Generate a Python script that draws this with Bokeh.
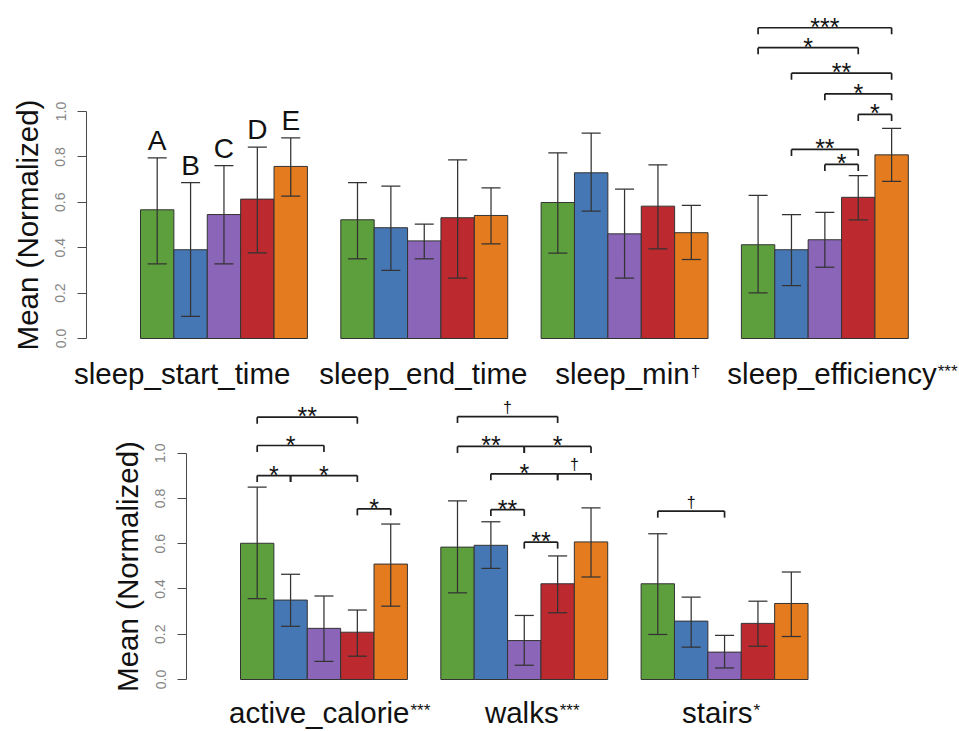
from bokeh.plotting import figure
from bokeh.layouts import column
from bokeh.models import ColumnDataSource, FixedTicker, PrintfTickFormatter, LinearAxis
from bokeh.embed import file_html
from bokeh.resources import INLINE
from bokeh.core.properties import value

# ---------------- data ----------------
conditions = ["A", "B", "C", "D", "E"]
colors = ["#5d9f3d", "#4677b5", "#8b65b7", "#bc2a2f", "#e47b1f"]

top_features = ["sleep_start_time", "sleep_end_time", "sleep_min", "sleep_efficiency"]
top_marks = ["", "", "\u2020", "***"]
top_mean = [[0.567, 0.391, 0.546, 0.614, 0.758],
            [0.523, 0.488, 0.430, 0.532, 0.542],
            [0.599, 0.730, 0.461, 0.583, 0.466],
            [0.413, 0.391, 0.435, 0.622, 0.809]]
top_upper = [[0.796, 0.687, 0.762, 0.843, 0.884],
             [0.687, 0.671, 0.504, 0.787, 0.664],
             [0.818, 0.905, 0.658, 0.765, 0.587],
             [0.631, 0.546, 0.556, 0.718, 0.926]]
top_lower = [[0.329, 0.097, 0.329, 0.377, 0.627],
             [0.351, 0.300, 0.351, 0.266, 0.417],
             [0.376, 0.561, 0.266, 0.395, 0.348],
             [0.201, 0.233, 0.314, 0.523, 0.692]]

bottom_features = ["active_calorie", "walks", "stairs"]
bottom_marks = ["***", "***", "*"]
bottom_mean = [[0.602, 0.351, 0.226, 0.209, 0.510],
               [0.585, 0.593, 0.172, 0.423, 0.608],
               [0.423, 0.258, 0.121, 0.248, 0.336]]
bottom_upper = [[0.850, 0.465, 0.369, 0.307, 0.687],
                [0.789, 0.697, 0.283, 0.546, 0.758],
                [0.644, 0.364, 0.195, 0.346, 0.475]]
bottom_lower = [[0.357, 0.235, 0.080, 0.103, 0.324],
                [0.383, 0.491, 0.063, 0.295, 0.453],
                [0.199, 0.143, 0.051, 0.147, 0.190]]

# pairwise significance: (group, condition i, condition j, mark)
top_sig = [(3, 0, 4, "***"), (3, 0, 3, "*"), (3, 1, 4, "**"), (3, 2, 4, "*"),
           (3, 3, 4, "*"), (3, 1, 3, "**"), (3, 2, 3, "*")]
bottom_sig = [(0, 0, 3, "**"), (0, 0, 2, "*"), (0, 0, 1, "*"), (0, 1, 3, "*"), (0, 3, 4, "*"),
              (1, 0, 3, "\u2020"), (1, 0, 2, "**"), (1, 2, 4, "*"), (1, 1, 3, "*"),
              (1, 3, 4, "\u2020"), (1, 1, 2, "**"), (1, 2, 3, "**"),
              (2, 0, 2, "\u2020")]

# ---------------- layout (positions / styles) ----------------
top_sig_level = [1.369, 1.281, 1.169, 1.078, 0.987, 0.833, 0.767]
bottom_sig_level = [1.159, 1.034, 0.901, 0.901, 0.754,
                    1.162, 1.030, 1.030, 0.909, 0.909, 0.751, 0.607,
                    0.744]
top_label_end = [4.49, 11.59, 16.45, 23.85]     # x (bar units) where the main label text ends
bottom_label_end = [5.06, 9.53, 15.34]

W = 959
PX = 200.3 / 6.0          # pixels per bar width
GROUP = 6                 # 5 bars + 1 gap
OFF = 54.0 / PX           # axis to first bar
FONT = "Liberation Sans"
MID = 0.35                # em-box centre above the alphabetic baseline
LABEL_PX = 29.5
SUP_PX = 17
STAR_PX = 25
DAGGER_PX = 16
LETTER_PX = 28


def panel(height, first_bar_px, zero_px, unit_px,
          means, uppers, lowers, feats, marks, label_end, label_base_px,
          sigs, sig_levels, letters):
    x0 = -first_bar_px / PX
    x1 = (W - first_bar_px) / PX
    y1 = zero_px / unit_px
    y0 = (zero_px - height) / unit_px
    p = figure(width=W, height=height, x_range=(x0, x1), y_range=(y0, y1),
               output_backend="svg", toolbar_location=None,
               x_axis_location=None, y_axis_location=None,
               min_border_left=0, min_border_right=0,
               min_border_top=0, min_border_bottom=0)
    p.grid.visible = False
    p.outline_line_color = None
    p.background_fill_color = "white"
    p.border_fill_color = "white"

    def vy(px_from_top):
        return (zero_px - px_from_top) / unit_px

    ax = LinearAxis(fixed_location=-OFF)
    ax.bounds = (0, 1)
    ax.ticker = FixedTicker(ticks=[0, 0.2, 0.4, 0.6, 0.8, 1.0])
    ax.formatter = PrintfTickFormatter(format="%.1f")
    ax.major_label_orientation = "parallel"
    ax.major_tick_out = 9
    ax.major_tick_in = 0
    ax.minor_tick_out = 0
    ax.minor_tick_in = 0
    ax.major_label_standoff = 12
    ax.major_label_text_font = FONT
    ax.major_label_text_font_size = "14px"
    ax.major_label_text_color = "#858585"
    ax.axis_line_color = "#4a4a4a"
    ax.major_tick_line_color = "#4a4a4a"
    ax.axis_label = "Mean (Normalized)"
    ax.axis_label_text_font = FONT
    ax.axis_label_text_font_size = "29.5px"
    ax.axis_label_text_font_style = "normal"
    ax.axis_label_text_color = "#111111"
    ax.axis_label_standoff = 9
    p.add_layout(ax, "left")

    # bars and error bars
    left, right, top, fill, xc, up, lo = [], [], [], [], [], [], []
    for g, vals in enumerate(means):
        for i, v in enumerate(vals):
            left.append(g * GROUP + i)
            right.append(g * GROUP + i + 1)
            top.append(v)
            fill.append(colors[i])
            xc.append(g * GROUP + i + 0.5)
            up.append(uppers[g][i])
            lo.append(lowers[g][i])
    src = ColumnDataSource(dict(left=left, right=right, top=top, fill=fill,
                                xc=xc, up=up, lo=lo,
                                cl=[x - 0.285 for x in xc], cr=[x + 0.285 for x in xc]))
    p.quad(left="left", right="right", bottom=0, top="top", fill_color="fill",
           line_color="#333333", line_width=1, source=src)
    ecol = "#333333"
    p.segment(x0="xc", y0="lo", x1="xc", y1="up", line_color=ecol, line_width=1.25, source=src)
    p.segment(x0="cl", y0="up", x1="cr", y1="up", line_color=ecol, line_width=1.25, source=src)
    p.segment(x0="cl", y0="lo", x1="cr", y1="lo", line_color=ecol, line_width=1.25, source=src)

    if letters:
        ly = [u + (7.5 + MID * LETTER_PX) / unit_px for u in up[:5]]
        p.text(x=xc[:5], y=ly, text=conditions,
               text_align="center", text_baseline="middle",
               text_font=value(FONT), text_font_size=f"{LETTER_PX}px", text_color="#111111")

    # significance brackets
    drop = 6.5 / unit_px
    bx0, by0, bx1, by1 = [], [], [], []
    sx, sy, st, dx, dy, dt = [], [], [], [], [], []
    for (g, i, j, mark), lev in zip(sigs, sig_levels):
        xi = g * GROUP + i + 0.5
        xj = g * GROUP + j + 0.5
        bx0 += [xi, xi, xj]
        by0 += [lev, lev, lev]
        bx1 += [xj, xi, xj]
        by1 += [lev, lev - drop, lev - drop]
        if mark.startswith("*"):
            base_off = 6.6 - 0.575 * STAR_PX
            sx.append((xi + xj) / 2)
            sy.append(lev + (base_off + MID * STAR_PX) / unit_px)
            st.append(mark)
        else:
            base_off = 7.7 - 0.28 * DAGGER_PX
            dx.append((xi + xj) / 2)
            dy.append(lev + (base_off + MID * DAGGER_PX) / unit_px)
            dt.append(mark)
    p.segment(x0=bx0, y0=by0, x1=bx1, y1=by1, line_color="#1e1e1e", line_width=1.7)
    if st:
        p.text(x=sx, y=sy, text=st, text_align="center", text_baseline="middle",
               text_font=value(FONT), text_font_size=f"{STAR_PX}px", text_color="#111111")
    if dt:
        p.text(x=dx, y=dy, text=dt, text_align="center", text_baseline="middle",
               text_font=value(FONT), text_font_size=f"{DAGGER_PX}px", text_color="#111111")

    # group labels with superscript marks
    n = len(feats)
    p.text(x=label_end, y=[vy(label_base_px - MID * LABEL_PX)] * n, text=feats,
           text_align="right", text_baseline="middle", text_font=value(FONT),
           text_font_size=f"{LABEL_PX}px", text_color="#111111")
    p.text(x=[e + 0.03 for e in label_end], y=[vy(label_base_px - 6.5 - MID * SUP_PX)] * n,
           text=marks, text_align="left", text_baseline="middle", text_font=value(FONT),
           text_font_size=f"{SUP_PX}px", text_color="#111111")
    return p


# top panel: page y 0..397, value 0 at y 338, first bar at x 140 (axis at 86)
top_fig = panel(397, 140, 338, 227.0,
                top_mean, top_upper, top_lower, top_features, top_marks,
                top_label_end, 383, top_sig, top_sig_level, True)
# bottom panel: page y 397..731, value 0 at y 679, first bar at x 240 (axis at 186)
bottom_fig = panel(334, 240, 679 - 397, 226.3,
                   bottom_mean, bottom_upper, bottom_lower, bottom_features, bottom_marks,
                   bottom_label_end, 722 - 397, bottom_sig, bottom_sig_level, False)

layout = column(top_fig, bottom_fig, spacing=0)
open("out.html", "w").write(file_html(layout, INLINE))
